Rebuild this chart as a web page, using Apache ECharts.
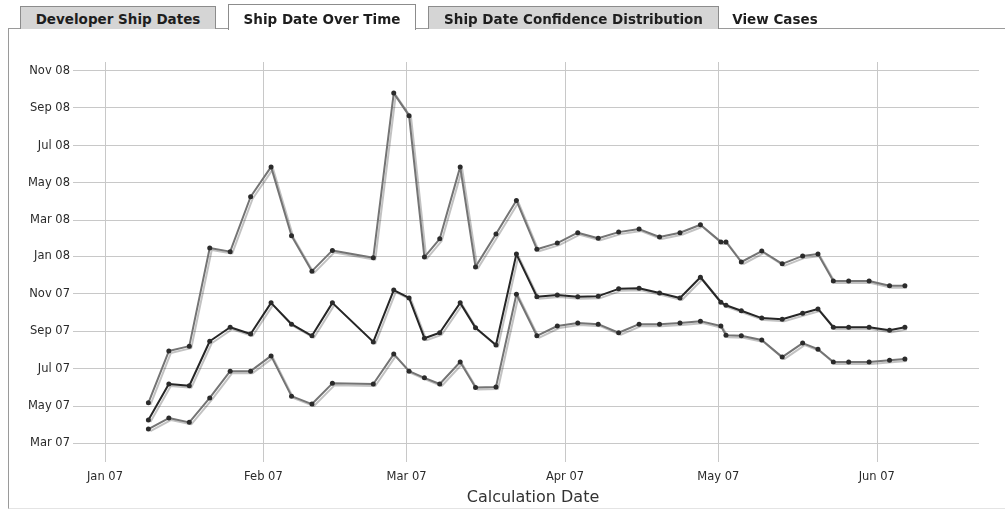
<!DOCTYPE html>
<html>
<head>
<meta charset="utf-8">
<script src="https://cdn.jsdelivr.net/npm/echarts@6/dist/echarts.min.js"></script>
<style>
  html, body { margin: 0; padding: 0; background: #fff; }
  #wrap { position: relative; width: 1005px; height: 510px; overflow: hidden; }
  #chart { position: absolute; left: 0; top: 0; width: 1005px; height: 510px; }
  .panel { position: absolute; left: 8px; top: 28px; width: 1000px; height: 479px;
           border-left: 1px solid #9a9a9a; border-top: 1px solid #9a9a9a;
           border-bottom: 1px solid #e4e4e4; }
  .tab { position: absolute; box-sizing: border-box; height: 23px; top: 6px;
         font-family: "DejaVu Sans", Verdana, sans-serif; font-weight: bold; font-size: 13.5px;
         color: #1e1e1e; text-align: center; line-height: 25px; white-space: nowrap; }
  .tab.off { background: #d5d5d5; border: 1px solid #8c8c8c; border-bottom: none; }
  .tab.on { background: #fff; border: 1px solid #8c8c8c; border-bottom: none; top: 4px; height: 26px; line-height: 28px; }
  .tab.plain { border: none; background: transparent; }
</style>
</head>
<body>
<div id="wrap">
  <div class="panel"></div>
  <div id="chart"></div>
  <div class="tab off" style="left:20px;width:196px;">Developer Ship Dates</div>
  <div class="tab on" style="left:228px;width:188px;">Ship Date Over Time</div>
  <div class="tab off" style="left:428px;width:291px;">Ship Date Confidence Distribution</div>
  <div class="tab plain" style="left:729px;width:92px;line-height:27px;">View Cases</div>
</div>
<script>
// Moments (date-hour) at which the estimate was calculated
const calcDates = [
  '2007-01-09-12','2007-01-13-12','2007-01-17-12','2007-01-21-12','2007-01-25-12','2007-01-29-12',
  '2007-02-02-12','2007-02-06-12','2007-02-10-12','2007-02-14-12','2007-02-22-12','2007-02-26-12',
  '2007-03-01-12','2007-03-04-12','2007-03-07-12','2007-03-11-12','2007-03-14-12','2007-03-18-12',
  '2007-03-22-12','2007-03-26-12','2007-03-30-12','2007-04-03-12','2007-04-07-12','2007-04-11-12',
  '2007-04-15-12','2007-04-19-12','2007-04-23-12','2007-04-27-12','2007-05-01-12','2007-05-02-12',
  '2007-05-05-12','2007-05-09-12','2007-05-13-12','2007-05-17-12','2007-05-20-12','2007-05-23-12',
  '2007-05-26-12','2007-05-30-12','2007-06-03-12','2007-06-06-12'
];

// Late estimate of the ship date
const upperShip = [
  '2007-05-06','2007-07-30','2007-08-07','2008-01-15','2008-01-09','2008-04-08',
  '2008-05-27','2008-02-04','2007-12-08','2008-01-11','2007-12-30','2008-09-25',
  '2008-08-19','2007-12-31','2008-01-30','2008-05-27','2007-12-15','2008-02-07',
  '2008-04-02','2008-01-13','2008-01-23','2008-02-09','2008-01-31','2008-02-10',
  '2008-02-15','2008-02-02','2008-02-09','2008-02-22','2008-01-25','2008-01-25',
  '2007-12-23','2008-01-10','2007-12-20','2008-01-02','2008-01-05','2007-11-22',
  '2007-11-22','2007-11-22','2007-11-14','2007-11-14'
];

// Median estimate of the ship date
const medianShip = [
  '2007-04-08','2007-06-06','2007-06-03','2007-08-15','2007-09-07','2007-08-27',
  '2007-10-17','2007-09-12','2007-08-24','2007-10-17','2007-08-14','2007-11-07',
  '2007-10-25','2007-08-20','2007-08-29','2007-10-17','2007-09-06','2007-08-09',
  '2008-01-05','2007-10-27','2007-10-30','2007-10-27','2007-10-28','2007-11-09',
  '2007-11-10','2007-11-02','2007-10-25','2007-11-28','2007-10-18','2007-10-13',
  '2007-10-04','2007-09-22','2007-09-20','2007-09-30','2007-10-07','2007-09-07',
  '2007-09-07','2007-09-07','2007-09-02','2007-09-07'
];

// Early estimate of the ship date
const lowerShip = [
  '2007-03-24','2007-04-11','2007-04-04','2007-05-14','2007-06-27','2007-06-27',
  '2007-07-22','2007-05-17','2007-05-04','2007-06-07','2007-06-06','2007-07-25',
  '2007-06-27','2007-06-16','2007-06-06','2007-07-12','2007-05-31','2007-06-01',
  '2007-10-31','2007-08-24','2007-09-09','2007-09-14','2007-09-12','2007-08-29',
  '2007-09-12','2007-09-12','2007-09-14','2007-09-17','2007-09-09','2007-08-25',
  '2007-08-24','2007-08-17','2007-07-20','2007-08-12','2007-08-02','2007-07-12',
  '2007-07-12','2007-07-12','2007-07-15','2007-07-17'
];

// Gridline / tick positions
const xTicks = ['2007-01-01','2007-02-01','2007-03-01','2007-04-01','2007-05-01','2007-06-01'];
const yTicks = ['2007-03-01','2007-05-01','2007-07-01','2007-09-01','2007-11-01','2008-01-01',
                '2008-03-01','2008-05-01','2008-07-01','2008-09-01','2008-11-01'];
const monthNames = ['Jan','Feb','Mar','Apr','May','Jun','Jul','Aug','Sep','Oct','Nov','Dec'];

function toTime(s) {
  const p = s.split('-').map(Number);
  return new Date(p[0], p[1] - 1, p[2], p[3] || 0).getTime();
}
function monthLabel(v) {
  const d = new Date(v);
  return monthNames[d.getMonth()] + ' ' + String(d.getFullYear()).slice(2);
}
function pairs(vals) {
  return calcDates.map((d, i) => [toTime(d), toTime(vals[i])]);
}

const labelFont = { fontFamily: '"DejaVu Sans", Verdana, sans-serif', fontSize: 11.5, color: '#2a2a2a' };
const gridLine = { show: true, lineStyle: { color: '#c8c8c8', width: 1 } };

function lineSeries(name, vals, color, z) {
  return {
    name: name, type: 'line', data: pairs(vals), z: z,
    symbol: 'circle', symbolSize: 5, showSymbol: true,
    itemStyle: { color: '#2b2b2b', borderWidth: 0 },
    lineStyle: { color: color, width: 2, shadowColor: 'rgba(0,0,0,0.24)', shadowBlur: 0,
                 shadowOffsetX: 2, shadowOffsetY: 2 },
    emphasis: { disabled: true }
  };
}

// Dates are plotted as millisecond timestamps on value axes
const chart = echarts.init(document.getElementById('chart'), null, { renderer: 'canvas' });
chart.setOption({
  animation: false,
  grid: { left: 73, right: 26, top: 62, bottom: 48, containLabel: false, outerBoundsMode: 'none' },
  xAxis: {
    type: 'value', scale: true,
    min: toTime('2006-12-25-18'), max: toTime('2007-06-21'),
    name: 'Calculation Date', nameLocation: 'middle', nameGap: 28,
    nameTextStyle: { fontFamily: '"DejaVu Sans", Verdana, sans-serif', fontSize: 16, color: '#333', padding: [0, 0, 0, 14] },
    axisLine: { show: false },
    axisTick: { show: false, customValues: xTicks.map(toTime) },
    axisLabel: Object.assign({ customValues: xTicks.map(toTime), formatter: monthLabel, margin: 9 }, labelFont),
    splitLine: gridLine
  },
  yAxis: {
    type: 'value', scale: true,
    min: toTime('2007-01-29'), max: toTime('2008-11-15'),
    axisLine: { show: false },
    axisTick: { show: false, customValues: yTicks.map(toTime) },
    axisLabel: Object.assign({ customValues: yTicks.map(toTime), formatter: monthLabel, margin: 3 }, labelFont),
    splitLine: gridLine
  },
  series: [
    lineSeries('Late', upperShip, '#747474', 2),
    lineSeries('Early', lowerShip, '#747474', 2),
    lineSeries('Median', medianShip, '#262626', 3)
  ]
});
</script>
</body>
</html>
